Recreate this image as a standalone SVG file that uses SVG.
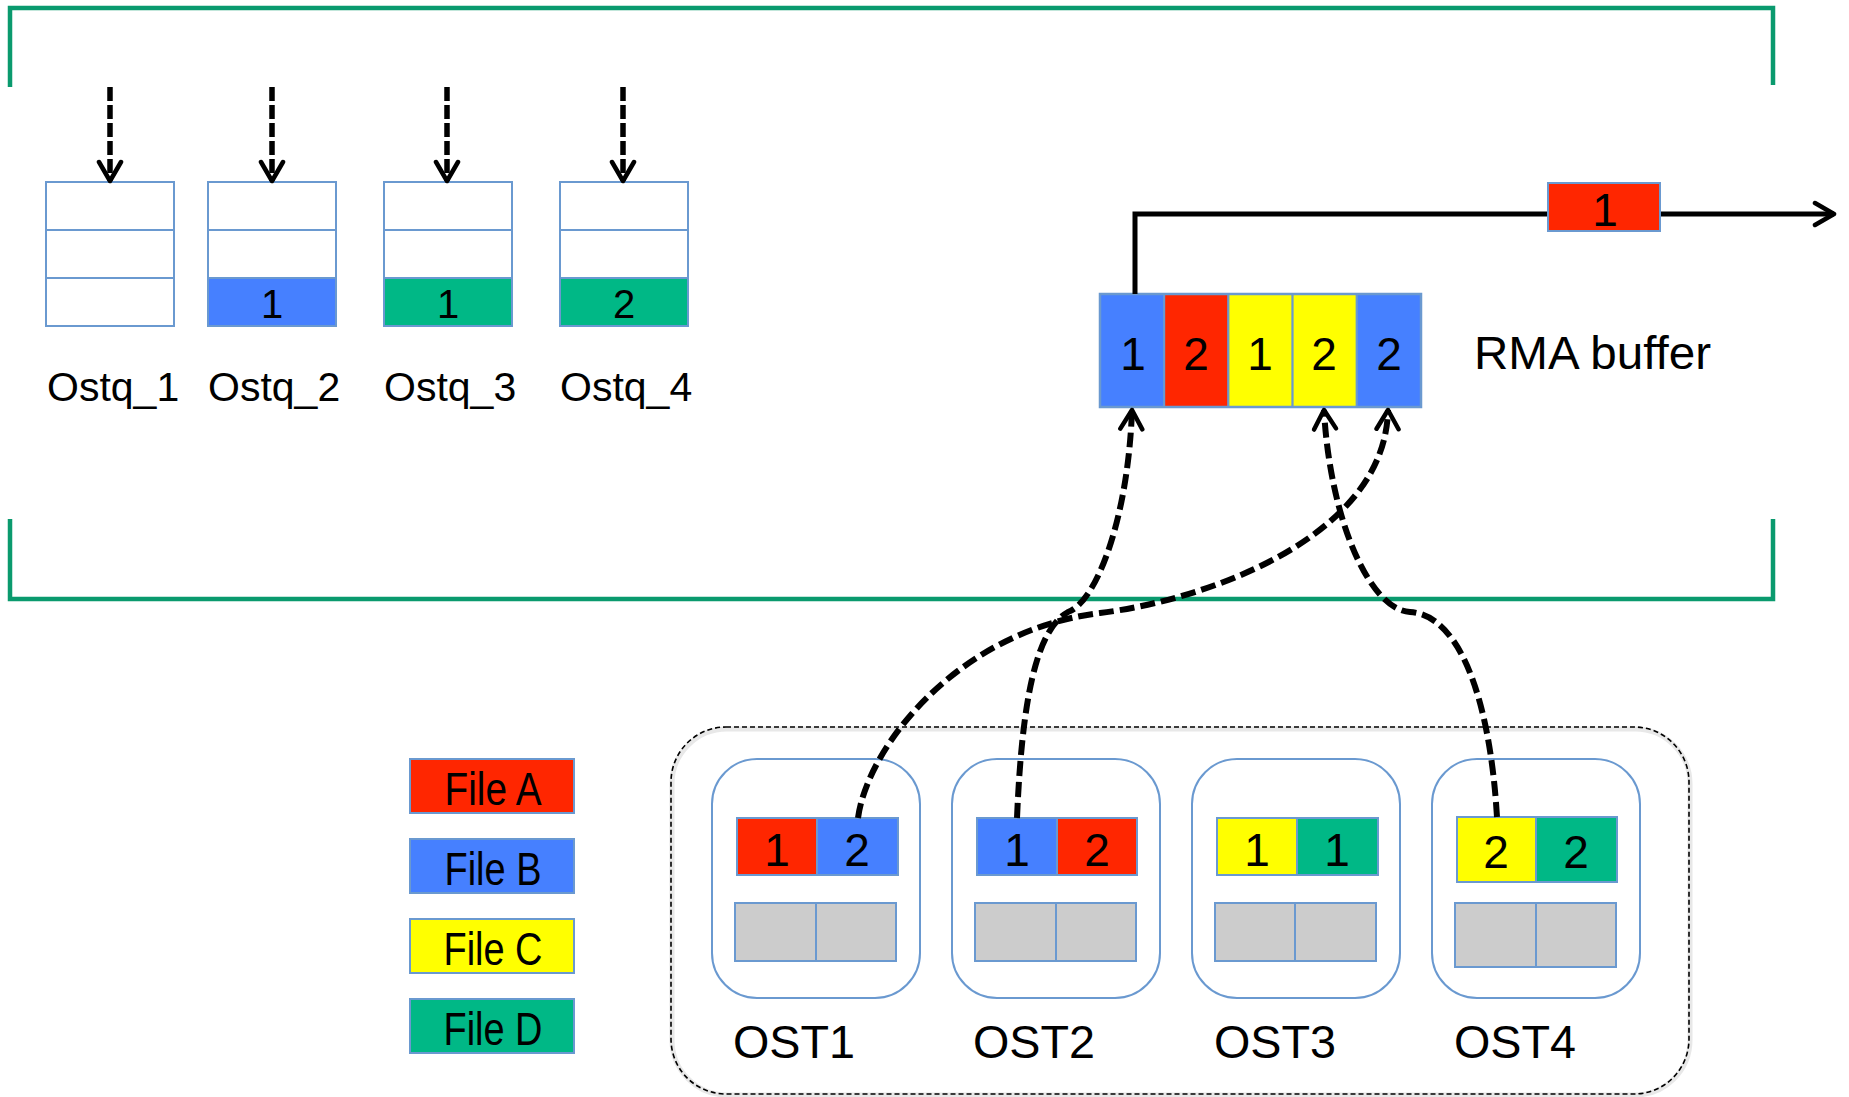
<svg xmlns="http://www.w3.org/2000/svg" width="1849" height="1097" viewBox="0 0 1849 1097">
  <style>
    .cell { stroke: #6A99D0; stroke-width: 2; }
    .white { fill: #FFFFFF; }
    .red { fill: #FF2600; }
    .blue { fill: #4680FF; }
    .yellow { fill: #FFFF00; }
    .green { fill: #00B886; }
    .grey { fill: #CCCCCC; }
    .txt { font-family: "Liberation Sans", Arial, sans-serif; fill: #000; }
    .num40 { font-size: 40px; text-anchor: middle; }
    .num46 { font-size: 46px; text-anchor: middle; }
    .label41 { font-size: 41px; }
    .label46 { font-size: 46px; }
    .legend { font-size: 46px; text-anchor: middle; }
    .bracket { fill: none; stroke: #0A9A6E; stroke-width: 4.5; }
    .ost { fill: #FFFFFF; stroke: #6A99D0; stroke-width: 2; }
    .flow { fill: none; stroke: #000; stroke-width: 6; stroke-dasharray: 15 6; }
    .feed { fill: none; stroke: #000; stroke-width: 5.5; stroke-dasharray: 14 4; }
    .out { fill: none; stroke: #000; stroke-width: 5; }
  </style>
  <defs>
    <marker id="chevron" markerUnits="userSpaceOnUse" viewBox="-22 -15 26 30" markerWidth="26" markerHeight="30" refX="0" refY="0" orient="auto">
      <path d="M-19,-11 L0,0 L-19,11" fill="none" stroke="#000" stroke-width="4.5" stroke-linecap="round" stroke-linejoin="round"/>
    </marker>
  </defs>

  <rect width="1849" height="1097" fill="#FFFFFF"/>

  <!-- compute-node bracket -->
  <g id="bracket">
    <path class="bracket" d="M10,87 V8 H1773 V85"/>
    <path class="bracket" d="M10,519 V599 H1773 V519"/>
  </g>

  <!-- per-OST queues -->
  <g id="ostq1">
    <rect class="cell white" x="46" y="182" width="128" height="48"/>
    <rect class="cell white" x="46" y="230" width="128" height="48"/>
    <rect class="cell white" x="46" y="278" width="128" height="48"/>
    <text class="txt label41" x="47" y="401">Ostq_1</text>
  </g>
  <g id="ostq2">
    <rect class="cell white" x="208" y="182" width="128" height="48"/>
    <rect class="cell white" x="208" y="230" width="128" height="48"/>
    <rect class="cell blue" x="208" y="278" width="128" height="48"/>
    <text class="txt num40" x="272" y="318">1</text>
    <text class="txt label41" x="208" y="401">Ostq_2</text>
  </g>
  <g id="ostq3">
    <rect class="cell white" x="384" y="182" width="128" height="48"/>
    <rect class="cell white" x="384" y="230" width="128" height="48"/>
    <rect class="cell green" x="384" y="278" width="128" height="48"/>
    <text class="txt num40" x="448" y="318">1</text>
    <text class="txt label41" x="384" y="401">Ostq_3</text>
  </g>
  <g id="ostq4">
    <rect class="cell white" x="560" y="182" width="128" height="48"/>
    <rect class="cell white" x="560" y="230" width="128" height="48"/>
    <rect class="cell green" x="560" y="278" width="128" height="48"/>
    <text class="txt num40" x="624" y="318">2</text>
    <text class="txt label41" x="560" y="401">Ostq_4</text>
  </g>

  <!-- RMA buffer -->
  <g id="rma-buffer">
    <rect class="cell blue" x="1100" y="294" width="64.2" height="113"/>
    <rect class="cell red" x="1164.2" y="294" width="64.2" height="113"/>
    <rect class="cell yellow" x="1228.4" y="294" width="64.2" height="113"/>
    <rect class="cell yellow" x="1292.6" y="294" width="64.2" height="113"/>
    <rect class="cell blue" x="1356.8" y="294" width="64.2" height="113"/>
    <rect x="1100" y="294" width="321" height="113" fill="none" stroke="#6A99D0" stroke-width="2.5"/>
    <text class="txt num46" x="1133" y="370">1</text>
    <text class="txt num46" x="1196" y="370">2</text>
    <text class="txt num46" x="1260" y="370">1</text>
    <text class="txt num46" x="1324" y="370">2</text>
    <text class="txt num46" x="1389" y="370">2</text>
    <text class="txt label46" x="1474" y="369" textLength="237" lengthAdjust="spacingAndGlyphs">RMA buffer</text>
  </g>

  <!-- legend -->
  <g id="legend-a">
    <rect class="cell red" x="410" y="759" width="164" height="54"/>
    <text class="txt legend" x="493" y="805" textLength="97" lengthAdjust="spacingAndGlyphs">File A</text>
  </g>
  <g id="legend-b">
    <rect class="cell blue" x="410" y="839" width="164" height="54"/>
    <text class="txt legend" x="493" y="885" textLength="97" lengthAdjust="spacingAndGlyphs">File B</text>
  </g>
  <g id="legend-c">
    <rect class="cell yellow" x="410" y="919" width="164" height="54"/>
    <text class="txt legend" x="493" y="965" textLength="99" lengthAdjust="spacingAndGlyphs">File C</text>
  </g>
  <g id="legend-d">
    <rect class="cell green" x="410" y="999" width="164" height="54"/>
    <text class="txt legend" x="493" y="1045" textLength="99" lengthAdjust="spacingAndGlyphs">File D</text>
  </g>

  <!-- storage servers -->
  <g id="storage">
    <rect x="672" y="729" width="1018" height="366" rx="55" fill="none" stroke="#E8E8E8" stroke-width="5"/>
    <rect x="671" y="727" width="1018" height="367" rx="55" fill="none" stroke="#000" stroke-width="1.6" stroke-dasharray="5 3"/>
  </g>

  <g id="ost1">
    <rect class="ost" x="712" y="759" width="208" height="239" rx="45"/>
    <rect class="cell red" x="737" y="818" width="80" height="57"/>
    <rect class="cell blue" x="817" y="818" width="81" height="57"/>
    <text class="txt num46" x="777" y="866">1</text>
    <text class="txt num46" x="857" y="866">2</text>
    <rect class="cell grey" x="735" y="903" width="81" height="58"/>
    <rect class="cell grey" x="816" y="903" width="80" height="58"/>
    <text class="txt label46" x="733" y="1058" textLength="122" lengthAdjust="spacingAndGlyphs">OST1</text>
  </g>
  <g id="ost2">
    <rect class="ost" x="952" y="759" width="208" height="239" rx="45"/>
    <rect class="cell blue" x="977" y="818" width="80" height="57"/>
    <rect class="cell red" x="1057" y="818" width="80" height="57"/>
    <text class="txt num46" x="1017" y="866">1</text>
    <text class="txt num46" x="1097" y="866">2</text>
    <rect class="cell grey" x="975" y="903" width="81" height="58"/>
    <rect class="cell grey" x="1056" y="903" width="80" height="58"/>
    <text class="txt label46" x="973" y="1058" textLength="122" lengthAdjust="spacingAndGlyphs">OST2</text>
  </g>
  <g id="ost3">
    <rect class="ost" x="1192" y="759" width="208" height="239" rx="45"/>
    <rect class="cell yellow" x="1217" y="818" width="80" height="57"/>
    <rect class="cell green" x="1297" y="818" width="81" height="57"/>
    <text class="txt num46" x="1257" y="866">1</text>
    <text class="txt num46" x="1337" y="866">1</text>
    <rect class="cell grey" x="1215" y="903" width="80" height="58"/>
    <rect class="cell grey" x="1295" y="903" width="81" height="58"/>
    <text class="txt label46" x="1214" y="1058" textLength="122" lengthAdjust="spacingAndGlyphs">OST3</text>
  </g>
  <g id="ost4">
    <rect class="ost" x="1432" y="759" width="208" height="239" rx="45"/>
    <rect class="cell yellow" x="1457" y="817" width="79" height="65"/>
    <rect class="cell green" x="1536" y="817" width="81" height="65"/>
    <text class="txt num46" x="1496" y="868">2</text>
    <text class="txt num46" x="1576" y="868">2</text>
    <rect class="cell grey" x="1455" y="903" width="81" height="64"/>
    <rect class="cell grey" x="1536" y="903" width="80" height="64"/>
    <text class="txt label46" x="1454" y="1058" textLength="122" lengthAdjust="spacingAndGlyphs">OST4</text>
  </g>

  <!-- connectors -->
  <g id="connectors">
    <line class="feed" x1="110" y1="87" x2="110" y2="181" marker-end="url(#chevron)"/>
    <line class="feed" x1="272" y1="87" x2="272" y2="181" marker-end="url(#chevron)"/>
    <line class="feed" x1="447" y1="87" x2="447" y2="181" marker-end="url(#chevron)"/>
    <line class="feed" x1="623" y1="87" x2="623" y2="181" marker-end="url(#chevron)"/>

    <path class="out" d="M1135,294 V214 H1834" marker-end="url(#chevron)"/>

    <!-- OST2 block 1 -> buffer slot 1 -->
    <path class="flow" d="M1017,818 C1022,700 1036,630 1068,612 C1096,602 1128,520 1132,410" marker-end="url(#chevron)"/>
    <!-- OST1 block 2 -> buffer slot 5 -->
    <path class="flow" d="M858,818 C868,745 960,630 1100,613 C1200,601 1385,540 1388,410" marker-end="url(#chevron)"/>
    <!-- OST4 block 1 -> buffer slot 4 -->
    <path class="flow" d="M1497,817 C1490,700 1460,615 1410,612 C1370,610 1330,520 1324,410" marker-end="url(#chevron)"/>
  </g>

  <!-- packet in flight -->
  <g id="packet">
    <rect class="cell red" x="1548" y="183" width="112" height="48"/>
    <text class="txt num46" x="1605" y="226">1</text>
  </g>
</svg>
